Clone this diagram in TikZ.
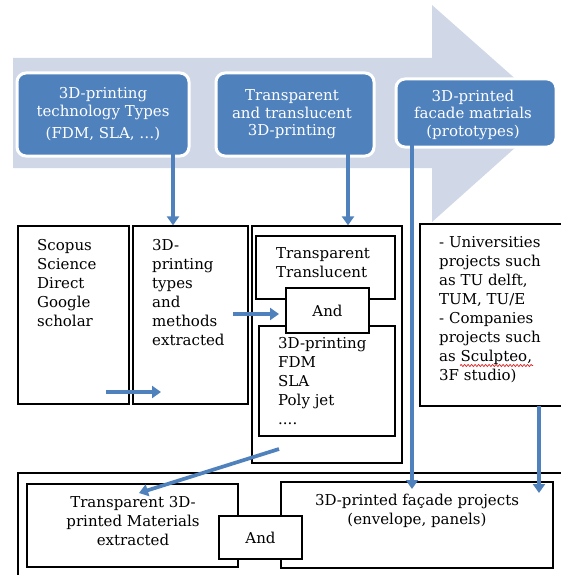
\documentclass[tikz,border=0pt]{standalone}
\usepackage{fontspec}
\setmainfont{DejaVu Serif}
\usetikzlibrary{arrows.meta,decorations.pathmorphing}
\definecolor{bblue}{RGB}{79,129,189}
\definecolor{bgarrow}{RGB}{208,216,232}
\definecolor{squig}{RGB}{220,30,30}
\begin{document}
\begin{tikzpicture}[x=1pt,y=-1pt,
  bluebox/.style={draw=white,line width=3pt,fill=bblue,rounded corners=9pt,text=white,align=center,
    font=\fontsize{15}{17.5}\selectfont,inner sep=0pt},
  bx/.style={draw=black,line width=1.3pt,fill=white,inner sep=0pt},
  txt/.style={inner sep=0pt,align=left,font=\fontsize{15}{19}\selectfont},
  ctxt/.style={inner sep=0pt,align=center,font=\fontsize{15}{19}\selectfont},
  conn/.style={draw=bblue,line width=3.7pt,-{Triangle[length=9pt,width=12pt]}}]
\useasboundingbox (0,0) rectangle (561,575);
\clip (0,0) rectangle (561,575);
% big background arrow
\fill[bgarrow] (13,58) -- (432,58) -- (432,5) -- (554,113) -- (432,222) -- (432,168) -- (13,168) -- cycle;
% blue boxes
\node[bluebox,minimum width=172pt,minimum height=83pt] (b1) at (103,114.5) {3D-printing\\technology Types\\[5pt](FDM, SLA, …)};
\node[bluebox,minimum width=158pt,minimum height=83pt] (b2) at (295,114.5) {};
\node[ctxt,text=white,font=\fontsize{15}{17.5}\selectfont] (b2t) at (292,114.5) {Transparent\\and translucent\\3D-printing};
\node[bluebox,minimum width=160pt,minimum height=68pt] (b3) at (476,113) {};
\node[ctxt,text=white,font=\fontsize{15}{17.5}\selectfont] (b3t) at (473,114.5) {3D-printed\\facade matrials\\(prototypes)};
% black boxes
\node[bx,minimum width=111pt,minimum height=178pt] (scopus) at (73.5,315) {};
\node[txt,anchor=north west] (scopust) at (37,239) {Scopus\\Science\\Direct\\Google\\scholar};
\node[bx,minimum width=115pt,minimum height=178pt] (types) at (190.5,315) {};
\node[txt,anchor=north west] (typest) at (152,239) {3D-\\printing\\types\\and\\methods\\extracted};
\node[bx,minimum width=150pt,minimum height=237pt] (mid) at (327,344.5) {};
\node[bx,minimum width=139pt,minimum height=63pt] (tt) at (325.5,267.5) {};
\node[txt,anchor=north west] (ttt) at (276,247) {Transparent\\Translucent};
\node[bx,minimum width=136pt,minimum height=110pt] (list) at (327,381) {};
\node[txt,anchor=north west] (listt) at (278,337) {3D-printing\\FDM\\SLA\\Poly jet\\....};
\node[bx,minimum width=83pt,minimum height=45pt,font=\fontsize{15}{19}\selectfont] (and1) at (327.5,310.5) {And};
\node[bx,minimum width=145pt,minimum height=182pt] (univ) at (492.5,315) {};
\node[txt,anchor=north west] (univt) at (439,236) {- Universities\\projects such\\as TU delft,\\TUM, TU/E\\- Companies\\projects such\\as Sculpteo,\\3F studio)};
\draw[squig,line width=0.7pt,decorate,decoration={snake,amplitude=1pt,segment length=3.5pt}] (460,365.5) -- (533,365.5);
% bottom
\node[bx,minimum width=550pt,minimum height=110pt] (bottom) at (293,528) {};
\node[bx,minimum width=211pt,minimum height=83pt] (mat) at (132.5,525.5) {};
\node[ctxt,anchor=north] (matt) at (133,496) {Transparent 3D-\\printed Materials\\extracted};
\node[bx,minimum width=272pt,minimum height=86pt] (fac) at (417,525) {};
\node[ctxt,anchor=north] (fact) at (417,494) {3D-printed façade projects\\(envelope, panels)};
\node[bx,minimum width=83pt,minimum height=43pt,font=\fontsize{15}{19}\selectfont] (and2) at (260.5,537.5) {And};
% connector anchors
\coordinate (s1) at (173,137);
\coordinate (s2) at (348,138);
\coordinate (s3) at (412,133);
\coordinate (e3) at (412,489);
\coordinate (s4) at (539,406);
\coordinate (e4) at (539,493);
\coordinate (s5) at (106,392);
\coordinate (e5) at (161,392);
\coordinate (s6) at (233,314);
\coordinate (e6) at (279,314);
\coordinate (s7) at (279,449);
\coordinate (e7) at (139,493);
% connectors
\draw[conn] (s1) -- (s1 |- types.north);
\draw[conn] (s2) -- (s2 |- mid.north);
\draw[conn] (s3) -- (e3);
\draw[conn] (s4) -- (e4);
\draw[conn] (s5) -- (e5);
\draw[conn] (s6) -- (e6);
\draw[conn] (s7) -- (e7);
\end{tikzpicture}
\end{document}
